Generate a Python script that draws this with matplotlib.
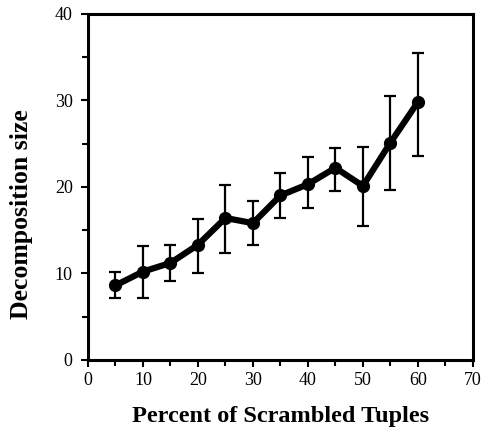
import matplotlib.pyplot as plt
from matplotlib.ticker import MultipleLocator

# percent of scrambled tuples
pct = [5, 10, 15, 20, 25, 30, 35, 40, 45, 50, 55, 60]
# mean decomposition size
size_mean = [8.6, 10.2, 11.2, 13.3, 16.4, 15.8, 19.0, 20.3, 22.2, 20.1, 25.1, 29.8]
# error bar ends (lower, upper)
size_low = [7.1, 7.1, 9.1, 10.0, 12.3, 13.3, 16.4, 17.5, 19.5, 15.5, 19.6, 23.6]
size_high = [10.1, 13.2, 13.3, 16.3, 20.2, 18.4, 21.6, 23.4, 24.5, 24.6, 30.5, 35.5]

err_lo = [m - l for m, l in zip(size_mean, size_low)]
err_hi = [h - m for m, h in zip(size_mean, size_high)]

plt.rcParams['font.family'] = 'Liberation Serif'

fig = plt.figure(figsize=(4.86, 4.33), dpi=100)
ax = fig.add_axes([0.181, 0.169, 0.792, 0.799])

ax.errorbar(pct, size_mean, yerr=[err_lo, err_hi], color='black', lw=4.5,
            marker='o', ms=8.5, elinewidth=1.6, capsize=4, capthick=1.6)

ax.set_xlim(0, 70)
ax.set_ylim(0, 40)
ax.xaxis.set_major_locator(MultipleLocator(10))
ax.xaxis.set_minor_locator(MultipleLocator(5))
ax.yaxis.set_major_locator(MultipleLocator(10))
ax.yaxis.set_minor_locator(MultipleLocator(5))
ax.tick_params(which='both', direction='out', width=1.5, labelsize=13, pad=4)
ax.tick_params(axis='y', pad=6)
ax.tick_params(which='major', length=5)
ax.tick_params(which='minor', length=4)
for s in ax.spines.values():
    s.set_linewidth(2.2)

ax.set_xlabel('Percent of Scrambled Tuples', fontsize=17.5, fontweight='bold', labelpad=12)
ax.set_ylabel('Decomposition size', fontsize=18.5, fontweight='bold')
ax.yaxis.set_label_coords(-0.143, 0.42)

plt.savefig('out.png', dpi=100)
